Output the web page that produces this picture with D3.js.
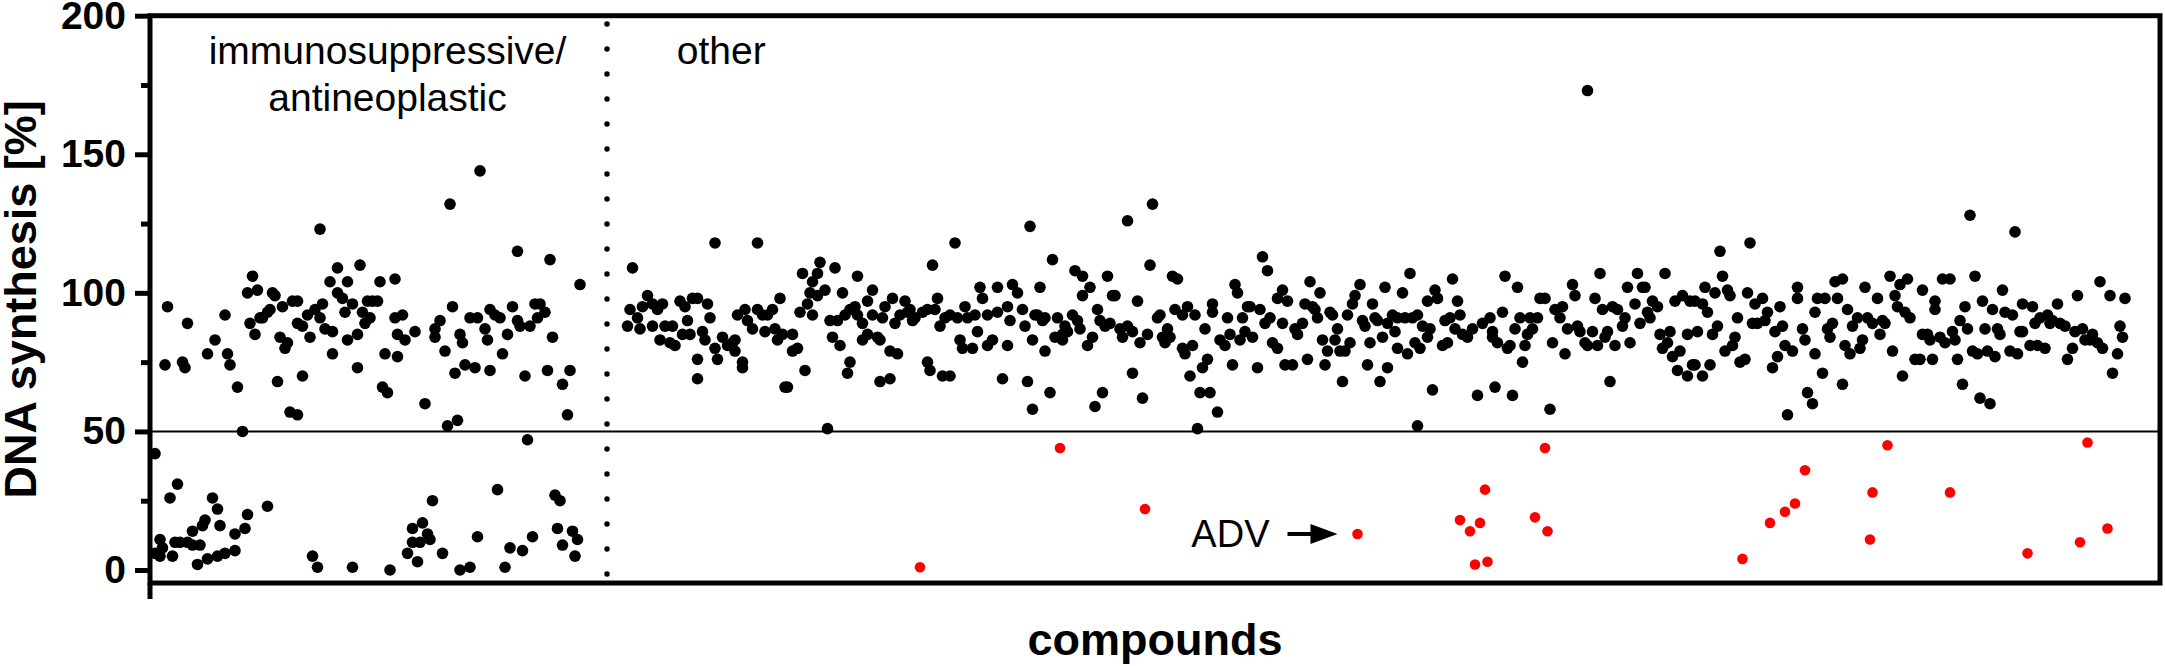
<!DOCTYPE html>
<html>
<head>
<meta charset="utf-8">
<script src="https://cdn.jsdelivr.net/npm/d3@7"></script>
<style>
body { margin: 0; background: #fff; }
text { font-family: "Liberation Sans", Arial, sans-serif; fill: #000; }
</style>
</head>
<body>
<svg width="2165" height="666"></svg>
<script>
// y axis
var yTicks = [0, 50, 100, 150, 200];
var yMinor = [25, 75, 125, 175];
var cutoff = 50;

// compounds are plotted in screening order; the dotted line splits the two groups
var nCompounds = 804;
var dividerAt = 182.8;
var groupLabels = [
  {at: 95, lines: ["immunosuppressive/", "antineoplastic"], anchor: "middle"},
  {at: 210.7, lines: ["other"], anchor: "start"}
];

// [compound index, DNA synthesis %]
var blackPoints = [
  [2,42],[2,6],[4,11],[5,8],[4,5],[7,95],[6,74],[8,26],[9,5],[10,10],[11,31],[12,10],[13,75],[14,73],[15,89],[15,10],
  [17,14],[17,9],[19,2],[20,9],[21,16],[22,18],[23,78],[23,4],[25,26],[26,83],[27,5],[27,22],[28,16],[30,6],[30,92],
  [31,78],[32,74],[34,7],[34,13],[35,66],[37,50],[38,15],[39,100],[39,20],[40,89],[41,106],[42,85],[43,101],[44,91],
  [45,91],[47,93],[47,23],[48,94],[49,100],[50,99],[51,68],[52,84],[53,95],[54,80],[55,82],[56,57],[57,97],[59,97],
  [59,89],[59,56],[61,70],[61,88],[63,92],[64,84],[65,5],[66,94],[67,1],[68,123],[68,91],[69,96],[70,87],[72,104],
  [73,86],[73,78],[75,109],[75,100],[77,98],[78,93],[79,104],[79,83],[81,96],[81,1],[83,85],[83,73],[84,110],[85,93],
  [86,89],[87,97],[88,91],[89,97],[91,97],[92,104],[93,66],[94,78],[95,64],[96,0],[98,105],[98,91],[99,85],[99,77],
  [101,92],[102,83],[106,86],[110,60],[114,87],[114,84],[116,90],[118,79],[119,52],[120,132],[121,95],[122,71],
  [123,54],[124,85],[125,82],[126,74],[128,91],[130,73],[131,91],[132,144],[134,87],[135,83],[136,94],[136,72],
  [138,92],[140,91],[141,78],[143,85],[145,95],[147,90],[147,115],[148,88],[150,70],[151,47],[152,88],[154,96],
  [155,91],[156,96],[158,93],[159,72],[160,112],[161,84],[165,67],[167,56],[168,72],[172,103],
  [103,6],[105,15],[105,10],[107,3],[108,10],[109,17],[111,13],[112,11],[113,25],[117,6],[124,0],[128,1],[131,12],
  [139,29],[142,1],[144,8],[149,7],[153,12],[162,27],[164,25],[163,15],[165,9],[169,14],[171,11],[170,5],
  [193,109],[192,94],[195,91],[191,88],[196,87],[197,95],[199,99],[201,96],[201,88],[203,94],[205,96],[204,83],
  [206,88],[209,88],[208,82],[210,81],[212,97],[213,85],[214,95],[215,90],[216,85],[217,98],[219,98],[219,76],
  [219,69],[221,86],[222,83],[223,96],[224,91],[226,118],[226,80],[227,76],[229,84],[231,81],[233,82],[234,83],
  [234,79],[237,73],[237,75],[235,92],[238,94],[239,90],[241,87],[243,94],[243,118],[245,92],[246,86],[247,92],
  [249,94],[250,87],[252,98],[251,83],[253,85],[254,66],[255,66],[257,85],[257,79],[259,80],[260,93],[261,107],
  [262,72],[263,96],[264,100],[265,92],[265,104],[267,107],[268,111],[267,99],
  [270,101],[271,51],[272,90],[273,84],[274,109],[275,90],[276,81],[277,100],[278,92],[279,71],[280,75],[280,94],
  [282,95],[283,106],[283,92],[285,83],[285,89],[287,97],[287,85],[289,92],[289,101],[291,84],[292,83],[292,68],
  [293,91],[294,95],[296,69],[296,79],[297,98],[298,89],[299,78],[300,92],[302,97],[303,93],[304,94],[305,90],
  [306,91],[309,93],[311,94],[311,75],[312,72],[313,110],[314,94],[315,98],[316,88],[317,70],[318,91],[320,70],
  [320,92],[322,118],[323,91],[324,83],[325,80],[326,95],[327,91],[329,80],[330,92],[331,86],[332,102],[333,98],
  [335,92],[335,81],[337,83],[339,102],[339,93],[341,69],[343,95],[343,81],[344,90],[345,103],[347,100],[349,94],
  [350,88],[351,68],[352,124],[353,83],[353,58],[354,92],
  [356,102],[355,92],[358,91],[357,90],[358,79],[360,64],[361,112],[362,84],[363,91],[365,83],[366,88],[365,85],
  [367,86],[369,92],[370,108],[371,90],[372,87],[373,106],[373,99],[375,81],[376,102],[377,84],[378,59],[379,94],
  [380,90],[381,64],[382,88],[383,106],[384,89],[385,99],[386,99],[388,87],[389,84],[391,126],[391,88],[393,71],
  [393,86],[395,97],[396,82],[397,62],[399,85],[400,110],[401,132],[403,91],[404,92],[405,84],[406,82],[407,87],
  [408,84],[409,106],[410,94],[411,105],[413,92],[413,80],[414,78],[415,95],[416,70],[417,81],[418,92],[419,51],
  [420,64],[421,73],[422,87],[423,76],[424,64],[425,96],[425,93],[427,57],[428,83],[430,81],[431,91],[432,85],
  [433,74],[434,103],[435,100],[436,83],[437,91],[438,86],[439,95],
  [440,95],[441,84],[443,73],[444,94],[445,113],[446,89],[447,108],[448,91],[449,82],[451,98],[451,80],[453,101],
  [453,89],[454,74],[455,97],[457,74],[458,87],[459,85],[461,89],[462,96],[463,76],[464,104],[465,95],[466,94],
  [467,91],[468,100],[469,83],[470,74],[471,79],[472,93],[473,92],[474,83],[475,87],[476,79],[477,68],[478,79],
  [479,92],[480,82],[481,96],[482,99],[484,103],[485,90],[486,88],[487,74],[488,82],[489,96],[490,91],[491,90],
  [492,68],[493,84],[494,102],[495,73],[495,89],[497,92],[498,86],[499,80],[499,91],[501,100],[502,91],[503,78],
  [504,107],[505,91],[506,82],[507,92],[507,52],[508,80],[509,88],[511,97],[511,84],[512,87],[513,65],[514,101],
  [515,98],[517,81],[518,90],[519,82],[520,91],[521,105],[522,87],[523,97],[524,92],[525,85],
  [527,84],[529,87],[531,63],[533,89],[536,91],[537,84],[537,86],[538,66],[539,82],[541,93],[542,106],[543,80],
  [544,81],[545,63],[546,87],[547,102],[548,91],[549,75],[550,81],[551,85],[552,91],[553,87],[555,91],[556,98],
  [558,98],[560,58],[561,82],[562,94],[564,91],[565,95],[566,78],[567,87],[569,103],[570,99],[571,88],[572,86],
  [574,82],[575,81],[575,173],[577,86],[578,98],[579,81],[580,107],[581,94],[582,84],[583,86],[584,68],[585,95],
  [586,81],[587,94],[589,88],[590,91],[591,102],[592,82],[594,96],[595,107],[596,89],[597,102],[598,102],[599,93],
  [600,91],[601,97],[603,95],[604,85],[605,80],[606,107],[607,82],[608,86],[609,77],[610,97],[611,72],[612,79],
  [613,99],[615,85],[615,70],[616,97],[617,74],
  [618,97],[619,86],[618,74],[621,96],[621,70],[622,102],[623,93],[624,74],[625,85],[626,100],[627,88],[628,115],
  [629,106],[630,79],[631,101],[632,99],[633,81],[634,84],[635,91],[636,75],[638,76],[639,100],[640,118],[641,89],
  [642,96],[643,89],[645,98],[646,90],[647,93],[649,73],[650,86],[651,77],[652,95],[653,88],[654,81],[655,56],
  [657,79],[659,102],[659,98],[661,87],[662,83],[663,64],[665,60],[666,93],[666,78],[667,98],[669,71],[670,98],
  [671,87],[672,84],[673,89],[674,104],[675,98],[677,105],[677,67],[678,81],[679,94],[680,78],[681,88],[683,91],
  [684,80],[685,83],[686,102],[687,91],[689,89],[691,98],[692,85],[693,90],[694,89],[696,106],[697,79],[698,99],
  [699,95],[700,103],[701,70],[702,93],[703,105],[704,91],[706,76],[708,76],[709,101],[709,85],
  [711,85],[713,76],[712,83],[714,94],[714,97],[716,84],[717,105],[718,82],[720,105],[721,86],[722,83],[723,76],
  [724,90],[725,67],[726,95],[727,87],[728,128],[729,79],[730,106],[731,78],[732,62],[733,97],[734,87],[735,79],
  [736,60],[737,94],[738,77],[739,87],[740,85],[741,101],[742,93],[744,79],[745,92],[746,122],[747,78],[748,86],
  [749,86],[749,96],[752,81],[753,95],[754,89],[755,81],[756,91],[758,80],[759,92],[760,89],[761,90],[763,96],
  [764,89],[766,88],[767,76],[769,80],[770,86],[771,99],[773,87],[774,83],[776,83],[777,85],[779,82],[780,104],
  [781,80],[784,99],[785,71],[787,78],[788,88],[789,84],[790,98]
];

// compounds below the 50 % cut-off in the "other" group
var redPoints = [
  [308,1],[364,44],[398,22],[483,13],[524,18],[528,14],[530,2],[532,17],[534,29],[535,3],[554,19],[558,44],
  [559,14],[637,4],[648,17],[654,21],[658,24],[662,36],[688,11],[689,28],[695,45],[720,28],[751,6],[772,10],
  [775,46],[783,15]
];

var advPoint = [483, 13];

var svg = d3.select("svg");
var x = d3.scaleLinear().domain([0, nCompounds]).range([150, 2160]);
var y = d3.scaleLinear().domain([0, 200]).range([570, 15.7]);
var yBottom = y(-4.7);

// frame
svg.append("rect")
  .attr("x", x(0)).attr("y", y(200))
  .attr("width", x(nCompounds) - x(0)).attr("height", yBottom - y(200))
  .attr("fill", "none").attr("stroke", "#000").attr("stroke-width", 5);

// y axis, major and minor ticks
var yAxis = svg.append("g").attr("transform", "translate(" + x(0) + ",0)")
  .call(d3.axisLeft(y).tickValues(yTicks).tickSize(15).tickPadding(9));
yAxis.select(".domain").remove();
yAxis.selectAll("line").attr("stroke-width", 5);
yAxis.selectAll("text")
  .style("font-family", "'Liberation Sans', Arial, sans-serif")
  .style("font-size", "39px").style("font-weight", "bold");

var yMin = svg.append("g").attr("transform", "translate(" + x(0) + ",0)")
  .call(d3.axisLeft(y).tickValues(yMinor).tickSize(9).tickFormat(""));
yMin.select(".domain").remove();
yMin.selectAll("line").attr("stroke-width", 5);

// start tick of the x axis
svg.append("line")
  .attr("x1", x(0)).attr("x2", x(0)).attr("y1", yBottom).attr("y2", yBottom + 16)
  .attr("stroke", "#000").attr("stroke-width", 5);

// 50 % cut-off
svg.append("line")
  .attr("x1", x(0)).attr("x2", x(nCompounds)).attr("y1", y(cutoff)).attr("y2", y(cutoff))
  .attr("stroke", "#000").attr("stroke-width", 2);

// dotted divider
svg.append("line")
  .attr("x1", x(dividerAt)).attr("x2", x(dividerAt)).attr("y1", y(197)).attr("y2", y(-2.8))
  .attr("stroke", "#000").attr("stroke-width", 5.5)
  .attr("stroke-linecap", "round").attr("stroke-dasharray", "0 25");

// points
svg.append("g").selectAll("circle").data(blackPoints).enter().append("circle")
  .attr("cx", function(d) { return x(d[0]); })
  .attr("cy", function(d) { return y(d[1]); })
  .attr("r", 5.8).attr("fill", "#000");

svg.append("g").selectAll("circle").data(redPoints).enter().append("circle")
  .attr("cx", function(d) { return x(d[0]); })
  .attr("cy", function(d) { return y(d[1]); })
  .attr("r", 5.3).attr("fill", "#ff0000");

// group labels
groupLabels.forEach(function(g) {
  g.lines.forEach(function(t, i) {
    svg.append("text")
      .attr("x", x(g.at)).attr("y", 64 + i * 47)
      .attr("text-anchor", g.anchor)
      .style("font-size", "39px")
      .text(t);
  });
});

// ADV annotation
svg.append("text")
  .attr("x", x(advPoint[0]) - 88).attr("y", y(advPoint[1]) + 13)
  .attr("text-anchor", "end").style("font-size", "38px").text("ADV");
svg.append("line")
  .attr("x1", x(advPoint[0]) - 70).attr("x2", x(advPoint[0]) - 40)
  .attr("y1", y(advPoint[1])).attr("y2", y(advPoint[1]))
  .attr("stroke", "#000").attr("stroke-width", 4);
svg.append("path")
  .attr("d", d3.line()([
    [x(advPoint[0]) - 47, y(advPoint[1]) - 10],
    [x(advPoint[0]) - 20, y(advPoint[1])],
    [x(advPoint[0]) - 47, y(advPoint[1]) + 10]
  ]))
  .attr("fill", "#000");

// axis titles
svg.append("text")
  .attr("transform", "translate(36," + ((y(200) + yBottom) / 2) + ") rotate(-90)")
  .attr("text-anchor", "middle")
  .style("font-size", "45px").style("font-weight", "bold")
  .text("DNA synthesis [%]");

svg.append("text")
  .attr("x", (x(0) + x(nCompounds)) / 2).attr("y", 655)
  .attr("text-anchor", "middle")
  .style("font-size", "45px").style("font-weight", "bold")
  .text("compounds");
</script>
</body>
</html>
